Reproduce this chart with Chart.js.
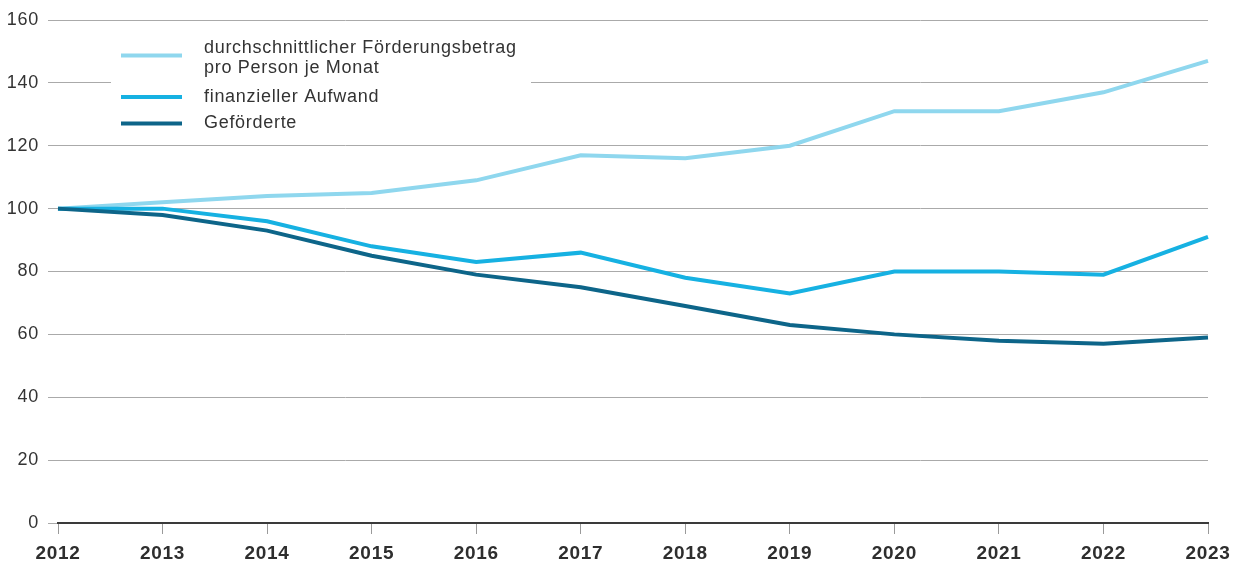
<!DOCTYPE html>
<html>
<head>
<meta charset="utf-8">
<script src="https://cdn.jsdelivr.net/npm/chart.js@4/dist/chart.umd.min.js"></script>
<style>
  html, body { margin: 0; padding: 0; background: #fff; }
  #wrap { position: relative; width: 1241px; height: 562px; }
</style>
</head>
<body>
<div id="wrap"><canvas id="c" width="1241" height="562"></canvas></div>
<script>
const years = ['2012','2013','2014','2015','2016','2017','2018','2019','2020','2021','2022','2023'];
const yTicks = [0, 20, 40, 60, 80, 100, 120, 140, 160];
const seriesNames = [
  ['durchschnittlicher Förderungsbetrag', 'pro Person je Monat'],
  ['finanzieller Aufwand'],
  ['Geförderte']
];
const foerderbetrag = [100, 102, 104, 105, 109, 117, 116, 120, 131, 131, 137, 147];
const aufwand       = [100, 100, 96, 88, 83, 86, 78, 73, 80, 80, 79, 91];
const gefoerderte   = [100, 98, 93, 85, 79, 75, 69, 63, 60, 58, 57, 59];
const colors = ['#8fd7ee', '#16b1e2', '#0d6589'];

const FONT = '"Liberation Sans", Arial, sans-serif';
const SPACING = '0.7px';

const spacingPlugin = {
  id: 'spacing',
  beforeLayout(chart) { chart.ctx.letterSpacing = SPACING; },
  beforeDraw(chart) { chart.ctx.letterSpacing = SPACING; }
};

const legendPlugin = {
  id: 'customLegend',
  afterDatasetsDraw(chart) {
    const ctx = chart.ctx;
    ctx.save();
    ctx.fillStyle = '#ffffff';
    ctx.fillRect(111, 32, 420, 108);
    const rows = [
      { y: 55.5, lines: [52.5, 72.5] },
      { y: 97, lines: [101.5] },
      { y: 123.5, lines: [127.5] }
    ];
    ctx.font = '18px ' + FONT;
    ctx.letterSpacing = SPACING;
    ctx.textBaseline = 'alphabetic';
    ctx.textAlign = 'left';
    rows.forEach((r, i) => {
      ctx.strokeStyle = colors[i];
      ctx.lineWidth = 4;
      ctx.beginPath();
      ctx.moveTo(121, r.y);
      ctx.lineTo(182, r.y);
      ctx.stroke();
      ctx.fillStyle = '#333333';
      seriesNames[i].forEach((t, j) => ctx.fillText(t, 204, r.lines[j]));
    });
    ctx.restore();
  }
};

new Chart(document.getElementById('c'), {
  type: 'line',
  data: {
    labels: years,
    datasets: [
      { label: seriesNames[0].join(' '), data: foerderbetrag, borderColor: colors[0], order: 2 },
      { label: seriesNames[1].join(' '), data: aufwand, borderColor: colors[1], order: 1 },
      { label: seriesNames[2].join(' '), data: gefoerderte, borderColor: colors[2], order: 0 }
    ]
  },
  options: {
    responsive: false,
    animation: false,
    devicePixelRatio: 1,
    layout: { padding: { top: 20, right: 33, bottom: 0, left: 0 } },
    elements: {
      line: { borderWidth: 4, tension: 0, fill: false, borderCapStyle: 'butt', borderJoinStyle: 'miter' },
      point: { radius: 0, hoverRadius: 0 }
    },
    plugins: { legend: { display: false }, tooltip: { enabled: false } },
    scales: {
      x: {
        type: 'category',
        offset: false,
        afterFit(scale) { scale.height = 39; },
        grid: { display: true, drawOnChartArea: false, drawTicks: true, tickLength: 11, color: '#9a9a9a', lineWidth: 1 },
        border: { display: true, color: '#3a3a3a', width: 2 },
        ticks: { color: '#2e2e2e', font: { family: FONT, size: 19, weight: 'bold' }, padding: 8, maxRotation: 0, autoSkip: false }
      },
      y: {
        min: 0, max: 160,
        afterBuildTicks(scale) { scale.ticks = yTicks.map(v => ({ value: v })); },
        afterFit(scale) { scale.width = 58; },
        grid: { color: '#aaaaaa', lineWidth: 1, drawTicks: true, tickLength: 10 },
        border: { display: false },
        ticks: { color: '#333', font: { family: FONT, size: 18 }, padding: 9 }
      }
    }
  },
  plugins: [spacingPlugin, legendPlugin]
});
</script>
</body>
</html>
